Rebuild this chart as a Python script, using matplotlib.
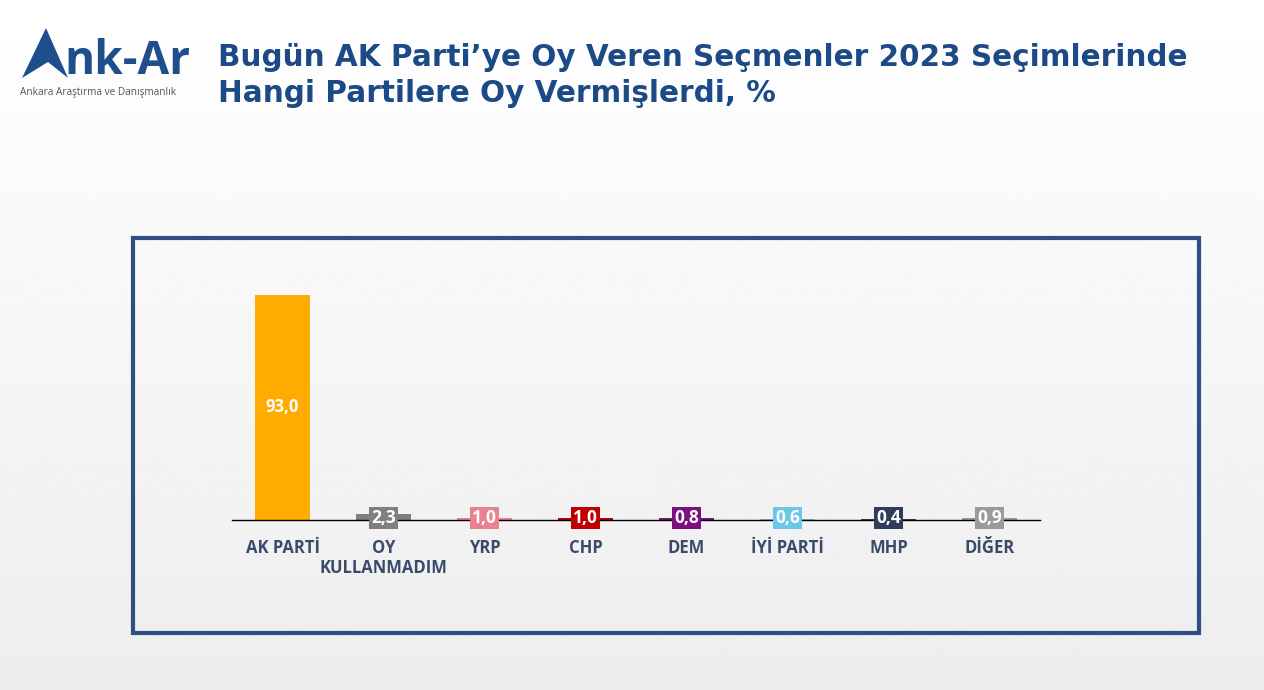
import matplotlib
matplotlib.use("Agg")
import matplotlib.pyplot as plt
from matplotlib.patches import Rectangle, Polygon
import numpy as np

categories = ["AK PARTİ", "OY\nKULLANMADIM", "YRP", "CHP", "DEM", "İYİ PARTİ", "MHP", "DİĞER"]
values = [93.0, 2.3, 1.0, 1.0, 0.8, 0.6, 0.4, 0.9]
labels = ["93,0", "2,3", "1,0", "1,0", "0,8", "0,6", "0,4", "0,9"]
colors = ["#FFAB00", "#7F7F7F", "#E8828F", "#C00000", "#7B1180", "#6CC6E8", "#2E3D5C", "#9A9A9A"]

W, H = 1264, 690
fig = plt.figure(figsize=(W / 100, H / 100), dpi=100)
fig.patch.set_facecolor("#F3F3F3")

# background gradient
bg = fig.add_axes([0, 0, 1, 1], zorder=-10)
grad = np.linspace(1.0, 0.93, 256).reshape(-1, 1)
bg.imshow(grad, cmap="gray", vmin=0, vmax=1, aspect="auto", extent=[0, 1, 0, 1])
bg.set_xlim(0, 1); bg.set_ylim(0, 1)
bg.axis("off")

# frame box
bg.add_patch(Rectangle((133 / W, 1 - 633 / H), (1199 - 133) / W, (633 - 238) / H,
                       fill=False, edgecolor="#2F4E86", linewidth=3, transform=bg.transAxes))

# logo
bg.add_patch(Polygon([(22 / W, 1 - 78 / H), (46 / W, 1 - 28 / H), (68 / W, 1 - 78 / H), (48 / W, 1 - 62 / H)],
                     closed=True, facecolor="#1F4E8C", edgecolor="none", transform=bg.transAxes))
fig.text(64 / W, 1 - 62 / H, "nk-Ar", fontsize=33, fontweight="bold", color="#1F4E8C",
         family="Open Sans", va="center", ha="left")
fig.text(20 / W, 1 - 92 / H, "Ankara Araştırma ve Danışmanlık", fontsize=7.2, color="#555555",
         family="Open Sans", va="center", ha="left")

# title
fig.text(218 / W, 1 - 57 / H, "Bugün AK Parti’ye Oy Veren Seçmenler 2023 Seçimlerinde",
         fontsize=21.25, fontweight="bold", color="#1C4A87", family="DejaVu Sans", va="center", ha="left")
fig.text(218 / W, 1 - 93 / H, "Hangi Partilere Oy Vermişlerdi, %",
         fontsize=21.25, fontweight="bold", color="#1C4A87", family="DejaVu Sans", va="center", ha="left")

# chart axes
ax_left, ax_right = 232, 1040
ax_bottom = 520
ax_top = ax_bottom - 242
ax = fig.add_axes([ax_left / W, 1 - ax_bottom / H, (ax_right - ax_left) / W, (ax_bottom - ax_top) / H])
ax.patch.set_alpha(0)
x = np.arange(len(categories))
ax.bar(x, values, width=0.55, color=colors, zorder=2)
ax.set_xlim(-0.5, len(categories) - 0.5)
ax.set_ylim(0, 100)
for s in ["top", "right", "left"]:
    ax.spines[s].set_visible(False)
ax.spines["bottom"].set_color("#000000")
ax.spines["bottom"].set_linewidth(1)
ax.set_yticks([])
ax.set_xticks(x)
ax.set_xticklabels(categories, fontsize=12, fontweight="bold", color="#3A4A6B", family="Open Sans",
                   linespacing=1.1)
ax.tick_params(axis="x", length=0, pad=14)

for i, (v, lab, c) in enumerate(zip(values, labels, colors)):
    if v > 20:
        ax.text(i, v / 2, lab, ha="center", va="center", color="white", fontsize=12,
                fontweight="bold", family="Open Sans", zorder=3)
    else:
        ax.text(i, 0.9, lab, ha="center", va="center", color="white", fontsize=12.5,
                fontweight="bold", family="Open Sans", zorder=4,
                bbox=dict(boxstyle="square,pad=0.12", facecolor=c, edgecolor="none"))

fig.savefig("out.png", dpi=100, facecolor=fig.get_facecolor())
